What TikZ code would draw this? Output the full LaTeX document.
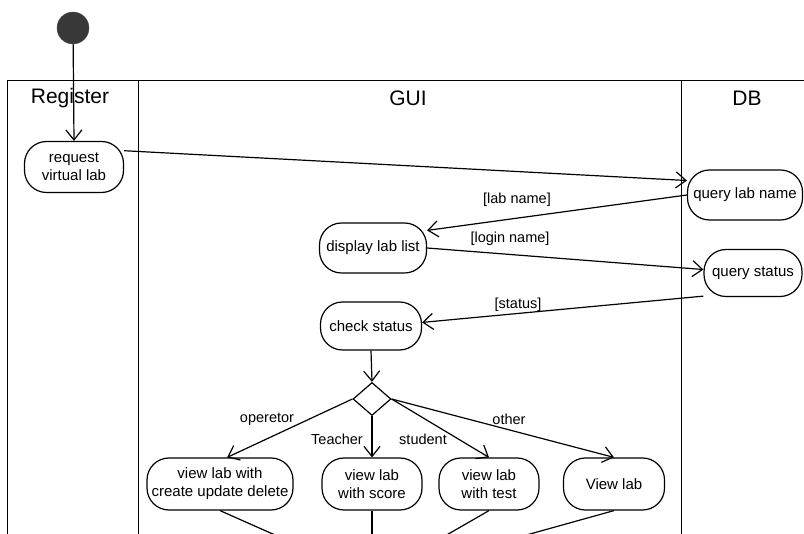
\documentclass[tikz,border=0pt]{standalone}
\usepackage{fontspec}
\setmainfont{Liberation Sans}
\usetikzlibrary{arrows.meta,shapes.geometric}

\begin{document}
\begin{tikzpicture}[x=1pt, y=-1pt, every node/.style={align=center}]
\tikzset{
  lane/.style={draw, line width=1pt},
  lanetitle/.style={font=\fontsize{21}{23}\selectfont},
  action/.style={draw, rounded corners=22pt, line width=1.2pt, minimum height=48pt, inner sep=2pt, font=\fontsize{15}{18}\selectfont},
  decision/.style={draw, diamond, aspect=1.15, minimum width=38pt, minimum height=33pt, inner sep=0pt, line width=1.2pt},
  initial/.style={circle, fill=black!78, draw=black!70, minimum size=32pt, inner sep=0pt},
  flow/.style={-{Straight Barb[length=10pt, width=16pt]}, line width=1.2pt},
  guard/.style={font=\fontsize{14.5}{16}\selectfont, inner sep=1pt}
}
\useasboundingbox (0,0) rectangle (804,534);
\clip (0,0) rectangle (804,534);

% swimlanes
\draw[lane] (7,600) -- (7,81) -- (810,81);
\draw[lane] (138,81) -- (138,600);
\draw[lane] (681,81) -- (681,600);
\node[lanetitle] (regtitle) at (70,98) {Register};
\node[lanetitle] (guititle) at (408,98) {GUI};
\node[lanetitle] (dbtitle) at (747,98) {DB};

% activities
\node[initial] (start) at (73,28) {};
\node[action, minimum width=99pt, minimum height=51pt] (request) at (74,167) {request\\virtual lab};
\node[action, minimum width=115pt, minimum height=50pt] (querylab) at (745,195) {query lab name};
\node[action, minimum width=107pt, minimum height=50pt] (display) at (373,248) {display lab list};
\node[action, minimum width=98pt, minimum height=47pt] (querystatus) at (753,273) {query status};
\node[action, minimum width=101pt] (check) at (371,326) {check status};
\node[decision] (choice) at (372,399) {};
\node[action, minimum width=146pt, minimum height=52pt] (crud) at (220,484) {view lab with\\create update delete};
\node[action, minimum width=100pt, minimum height=52pt] (score) at (372,484) {view lab\\with score};
\node[action, minimum width=100pt, minimum height=52pt] (test) at (489,484) {view lab\\with test};
\node[action, minimum width=101pt, minimum height=52pt] (viewlab) at (614,484) {View lab};
\coordinate (merge) at (372,578);

% flows
\draw[flow] (start) -- (request.north);
\draw[flow] (request.18) -- (querylab.166);
\draw[flow] (querylab.west) -- (display.18);
\draw[flow] (display.east) -- (querystatus.176);
\draw[flow] (querystatus.205) -- (check.4);
\draw[flow] (check.south) -- (choice.north);
\draw[flow] (choice.west) -- (crud.75);
\draw[flow] (choice.south) -- (score.north);
\draw[flow] (choice.east) -- (test.north);
\draw[flow] (choice.east) -- (viewlab.north);
\draw[flow] (crud.south) -- (merge);
\draw[flow] (score.south) -- (merge);
\draw[flow] (test.south) -- (merge);
\draw[flow] (viewlab.south) -- (merge);

% guards
\node[guard] (glab) at (517,200) {[lab name]};
\node[guard] (glogin) at (510,239) {[login name]};
\node[guard] (gstatus) at (518,305) {[status]};
\node[guard] (gop) at (267,419) {operetor};
\node[guard] (gteach) at (337,439) {Teacher};
\node[guard] (gstud) at (423,439) {student};
\node[guard] (gother) at (509,419) {other};
\end{tikzpicture}
\end{document}
